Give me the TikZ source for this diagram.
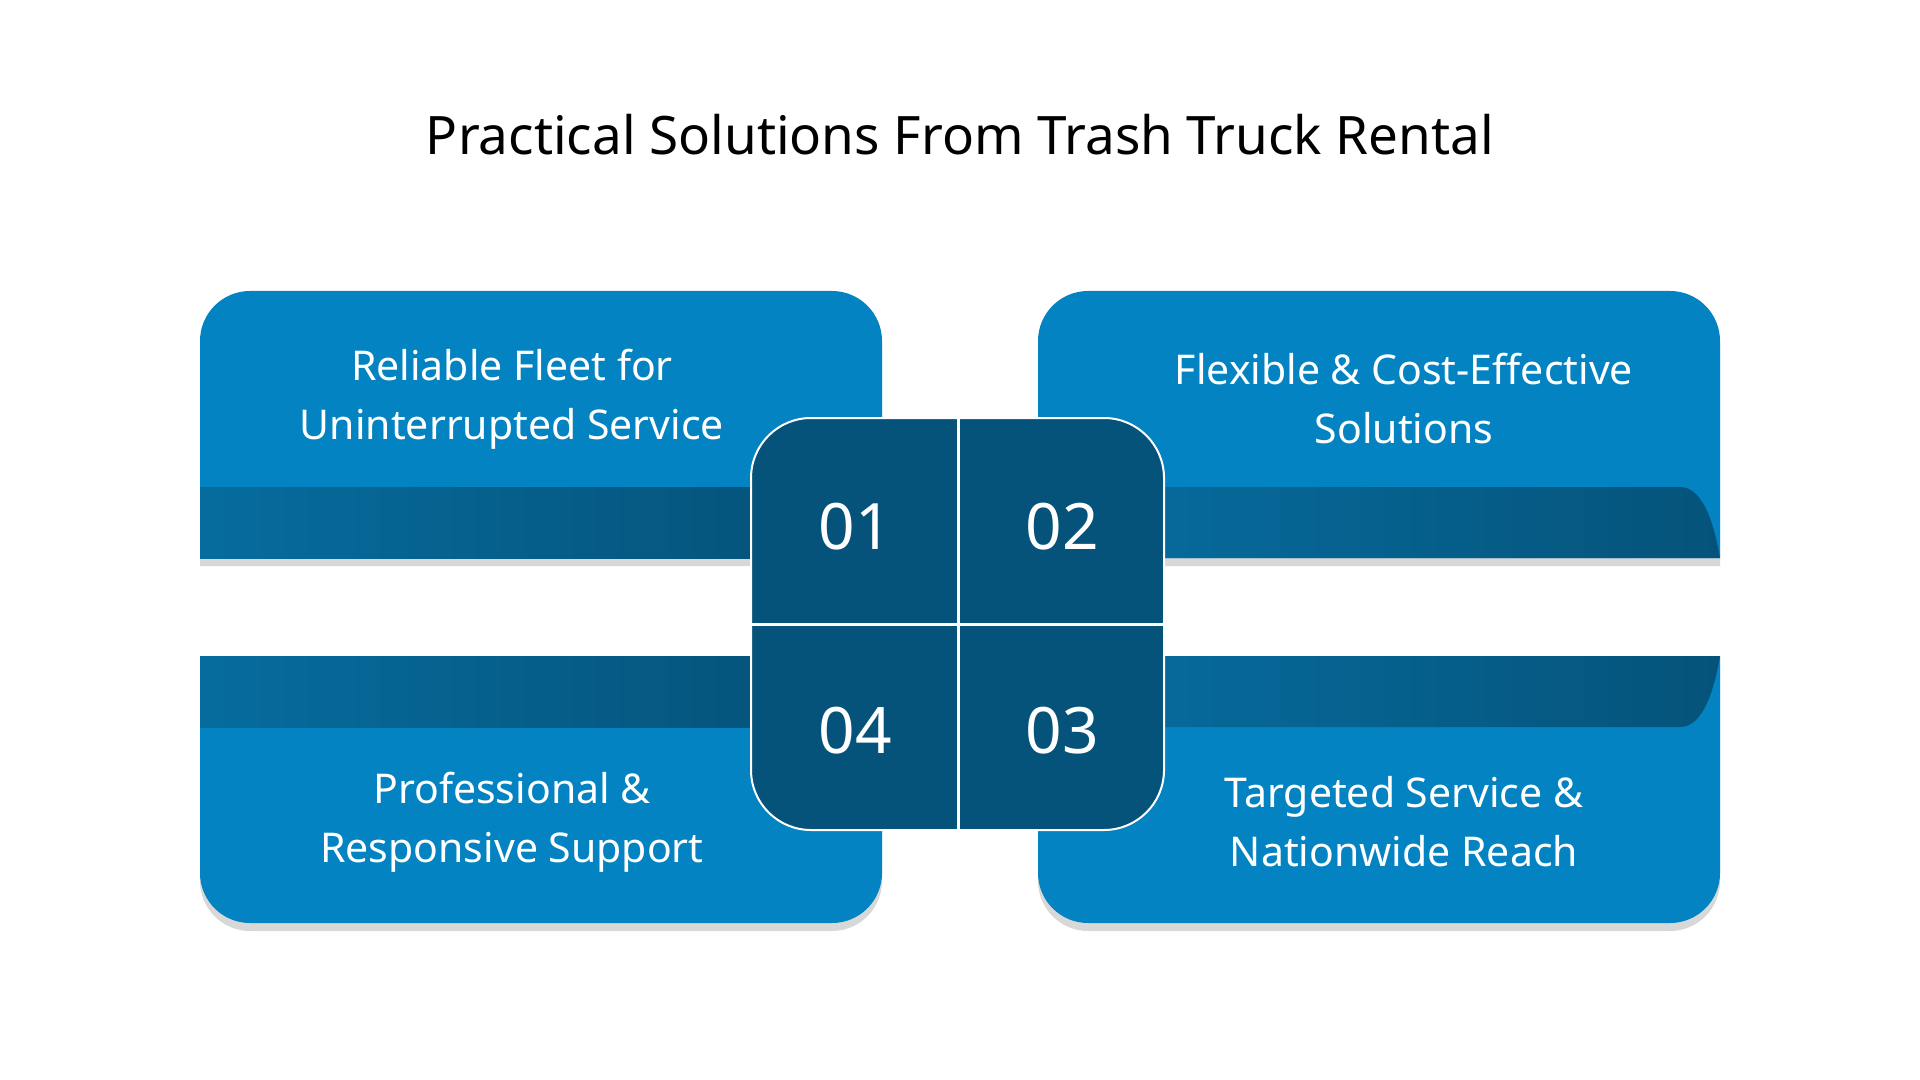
\documentclass[tikz,border=0pt]{standalone}
\usepackage{fontspec}
\setmainfont{Noto Sans}
\usetikzlibrary{shadows}
\definecolor{cardblue}{HTML}{0383C1}
\definecolor{darkblue}{HTML}{05537A}
\definecolor{bandlight}{HTML}{066C9E}
\tikzset{
  card/.style={fill=cardblue,drop shadow={shadow xshift=0pt,shadow yshift=-4pt,opacity=.25,fill=black!60}},
  cardtext/.style={text=white,font=\fontsize{20.5}{29.5}\selectfont\bfseries,align=center},
  numtext/.style={text=white,font=\fontsize{32}{36}\selectfont\bfseries}
}
\begin{document}
\begin{tikzpicture}[x=0.5pt,y=-0.5pt]
\useasboundingbox (0,0) rectangle (1920,1080);
\fill[white] (0,0) rectangle (1920,1080);
% Title
\node[font=\fontsize{26.5}{30}\selectfont\bfseries] (title) at (960,135) {Practical Solutions From Trash Truck Rental};

% Cards
\fill[card] (200,558) {[rounded corners=25pt] -- (200,291) -- (882,291)} -- (882,558) -- cycle;
\fill[card] (1038,558) {[rounded corners=25pt] -- (1038,291) -- (1720,291)} -- (1720,558) -- cycle;
\fill[card] (200,656) {[rounded corners=25pt] -- (200,923) -- (882,923)} -- (882,656) -- cycle;
\fill[card] (1038,656) {[rounded corners=25pt] -- (1038,923) -- (1720,923)} -- (1720,656) -- cycle;

% Bands
\shade[left color=bandlight,right color=darkblue] (200,487) rectangle (800,558);
\shade[left color=bandlight,right color=darkblue] (1100,487) -- (1680,487) .. controls (1705,487) and (1715,530) .. (1720,558) -- (1100,558) -- cycle;
\shade[left color=bandlight,right color=darkblue] (200,656) rectangle (800,727);
\shade[left color=bandlight,right color=darkblue] (1100,656) -- (1720,656) .. controls (1715,684) and (1705,727) .. (1680,727) -- (1100,727) -- cycle;

% Texts
\node[cardtext] (t1) at (512,399) {Reliable Fleet for\\Uninterrupted Service};
\node[cardtext] (t2) at (1404,399) {Flexible \& Cost-Effective\\Solutions};
\node[cardtext] (t4) at (512,822) {Professional \&\\Responsive Support};
\node[cardtext] (t3) at (1404,822) {Targeted Service \&\\Nationwide Reach};

% Centre square
\filldraw[fill=darkblue,draw=white,line width=1pt,rounded corners=30pt] (751,418) rectangle (1164,830);
\draw[white,line width=1.5pt] (958,418) -- (958,830);
\draw[white,line width=1.5pt] (751,624) -- (1164,624);
\node[numtext] (n1) at (855,527) {01};
\node[numtext] (n2) at (1062,527) {02};
\node[numtext] (n4) at (855,731) {04};
\node[numtext] (n3) at (1062,731) {03};
\end{tikzpicture}
\end{document}
